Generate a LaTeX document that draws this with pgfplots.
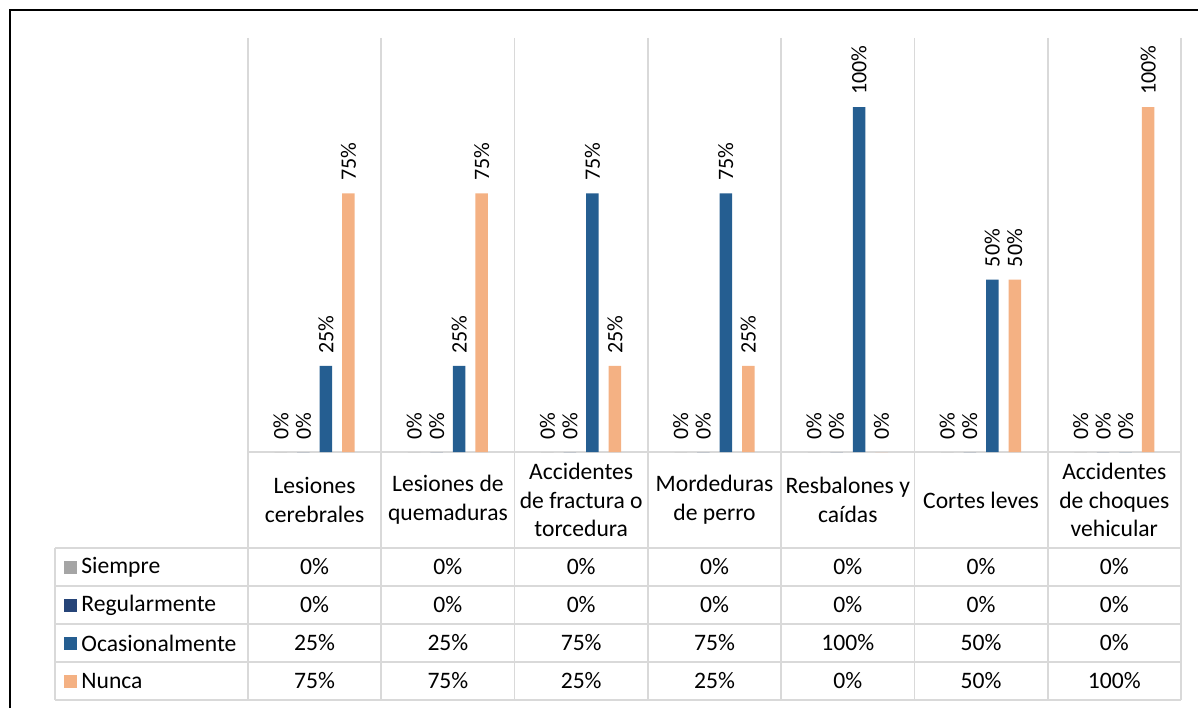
\documentclass[border=0pt]{standalone}
\usepackage{pgfplots}
\pgfplotsset{compat=1.18}
\usepackage{fontspec}
\setmainfont{Carlito}
\definecolor{cSiempre}{HTML}{A5A5A5}
\definecolor{cReg}{HTML}{264478}
\definecolor{cOca}{HTML}{255E91}
\definecolor{cNun}{HTML}{F4B183}
\definecolor{gridc}{HTML}{D9D9D9}
\begin{document}
\begin{tikzpicture}
\useasboundingbox (0,0) rectangle (599pt,354pt);
\begin{scope}[x=0.5pt,y=0.5pt]
  % frame
  \draw[line width=1pt,black] (10,0) -- (10,698) -- (1198,698);
  % vertical grid lines through plot and table
  \foreach \k in {0,...,7} {
    \draw[gridc,line width=0.9pt] ({248+133.29*\k},670) -- ({248+133.29*\k},8);
  }
  % horizontal lines
  \draw[gridc,line width=0.9pt] (248,256) -- (1181,256);
  \foreach \yy in {160,122,84,46,8} {
    \draw[gridc,line width=0.9pt] (55,\yy) -- (1181,\yy);
  }
  \draw[gridc,line width=0.9pt] (55,160) -- (55,8);
  % header (categories)
  \begin{scope}[every node/.style={align=center,font=\fontsize{11.8}{14.4}\selectfont,inner sep=0pt}]
    \node at (314.6,208) {Lesiones\\cerebrales};
    \node at (447.9,208) {Lesiones de\\quemaduras};
    \node at (581.2,208) {Accidentes\\de fractura o\\torcedura};
    \node at (714.5,208) {Mordeduras\\de perro};
    \node at (847.8,208) {Resbalones y\\caídas};
    \node at (981.0,208) {Cortes leves};
    \node at (1114.3,208) {Accidentes\\de choques\\vehicular};
  % legend column
    \fill[cSiempre] (64,134) rectangle (77,147);
    \fill[cReg] (64,96) rectangle (77,109);
    \fill[cOca] (64,58) rectangle (77,71);
    \fill[cNun] (64,20) rectangle (77,33);
    \node[anchor=west] at (81,141) {Siempre};
    \node[anchor=west] at (81,103) {Regularmente};
    \node[anchor=west] at (81,65) {Ocasionalmente};
    \node[anchor=west] at (81,27) {Nunca};
  % table values
    \foreach \v [count=\i from 0] in {0,0,0,0,0,0,0} {\node at ({314.6+133.29*\i},141) {\v\%};}
    \foreach \v [count=\i from 0] in {0,0,0,0,0,0,0} {\node at ({314.6+133.29*\i},103) {\v\%};}
    \foreach \v [count=\i from 0] in {25,25,75,75,100,50,0} {\node at ({314.6+133.29*\i},65) {\v\%};}
    \foreach \v [count=\i from 0] in {75,75,25,25,0,50,100} {\node at ({314.6+133.29*\i},27) {\v\%};}
  \end{scope}
\end{scope}
\begin{axis}[
  at={(124pt,128pt)}, anchor=south west,
  scale only axis, width=466.5pt, height=207pt,
  xmin=-0.5, xmax=6.5, ymin=0, ymax=120,
  axis lines=none, clip=false,
  ybar=5pt, bar width=6.25pt,
  /pgf/number format/assume math mode=true,
  nodes near coords={\pgfmathprintnumber{\pgfplotspointmeta}\%},
  every node near coord/.append style={font=\fontsize{11}{13}\selectfont, rotate=90, anchor=west, inner sep=0pt, xshift=6pt, text=black},
]
\addplot[fill=cSiempre, draw=none] coordinates {(0,0) (1,0) (2,0) (3,0) (4,0) (5,0) (6,0)};
\addplot[fill=cReg, draw=none] coordinates {(0,0) (1,0) (2,0) (3,0) (4,0) (5,0) (6,0)};
\addplot[fill=cOca, draw=none] coordinates {(0,25) (1,25) (2,75) (3,75) (4,100) (5,50) (6,0)};
\addplot[fill=cNun, draw=none] coordinates {(0,75) (1,75) (2,25) (3,25) (4,0) (5,50) (6,100)};
\end{axis}
\end{tikzpicture}
\end{document}
